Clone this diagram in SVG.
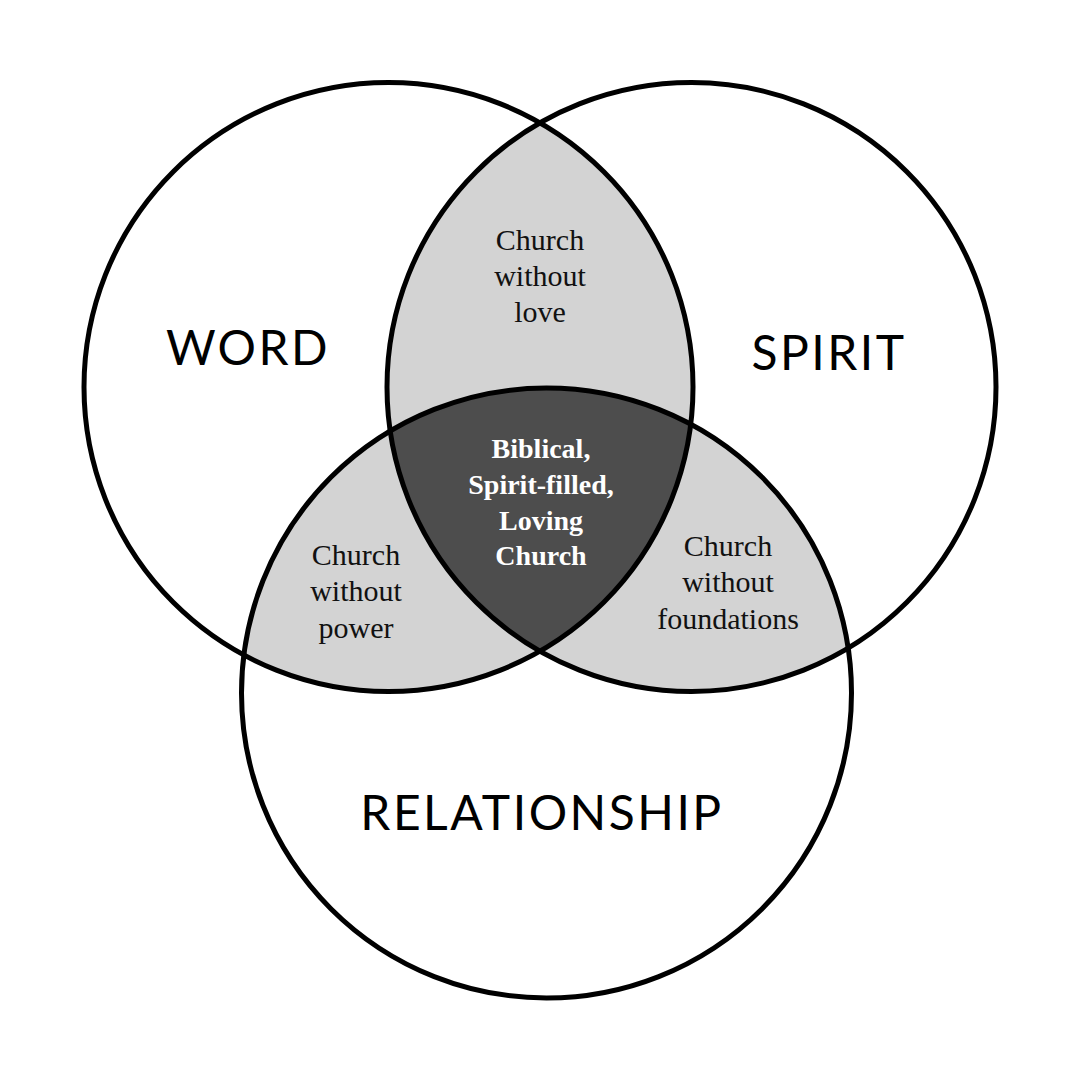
<svg xmlns="http://www.w3.org/2000/svg" width="1080" height="1081" viewBox="0 0 1080 1081">
<defs>
<style>
.ring{fill:none;stroke:#000;stroke-width:5}
.lite{fill:#d3d3d3}
.dark{fill:#4d4d4d}
.big{font-family:Lato,"Liberation Sans",sans-serif;font-size:48px;letter-spacing:2.5px;fill:#000;text-anchor:middle}
.lbl{font-family:"Liberation Serif",serif;font-size:30px;fill:#111;text-anchor:middle}
.core{font-family:"Liberation Serif",serif;font-size:28px;font-weight:bold;fill:#fff;text-anchor:middle}
</style>
<clipPath id="cw"><circle cx="388.5" cy="387" r="304.5"/></clipPath>
<clipPath id="cs"><circle cx="691.5" cy="387" r="304.5"/></clipPath>
<clipPath id="cws" clip-path="url(#cw)"><circle cx="691.5" cy="387" r="304.5"/></clipPath>
</defs>
<rect width="1080" height="1081" fill="#fff"/>
<g id="fills">
<circle class="lite" cx="691.5" cy="387" r="304.5" clip-path="url(#cw)"/>
<circle class="lite" cx="546.5" cy="693" r="305" clip-path="url(#cw)"/>
<circle class="lite" cx="546.5" cy="693" r="305" clip-path="url(#cs)"/>
<circle class="dark" cx="546.5" cy="693" r="305" clip-path="url(#cws)"/>
</g>
<g id="word">
<circle class="ring" cx="388.5" cy="387" r="304.5"/>
<text class="big" x="248" y="365">WORD</text>
</g>
<g id="spirit">
<circle class="ring" cx="691.5" cy="387" r="304.5"/>
<text class="big" x="829" y="370">SPIRIT</text>
</g>
<g id="relationship">
<circle class="ring" cx="546.5" cy="693" r="305"/>
<text class="big" x="542" y="830">RELATIONSHIP</text>
</g>
<g id="without-love">
<text class="lbl" x="540" y="250">Church</text>
<text class="lbl" x="540" y="286">without</text>
<text class="lbl" x="540" y="322">love</text>
</g>
<g id="without-power">
<text class="lbl" x="356" y="565">Church</text>
<text class="lbl" x="356" y="601">without</text>
<text class="lbl" x="356" y="638">power</text>
</g>
<g id="without-foundations">
<text class="lbl" x="728" y="556">Church</text>
<text class="lbl" x="728" y="592">without</text>
<text class="lbl" x="728" y="629">foundations</text>
</g>
<g id="center">
<text class="core" x="541" y="458">Biblical,</text>
<text class="core" x="541" y="494">Spirit-filled,</text>
<text class="core" x="541" y="530">Loving</text>
<text class="core" x="541" y="565">Church</text>
</g>
</svg>
